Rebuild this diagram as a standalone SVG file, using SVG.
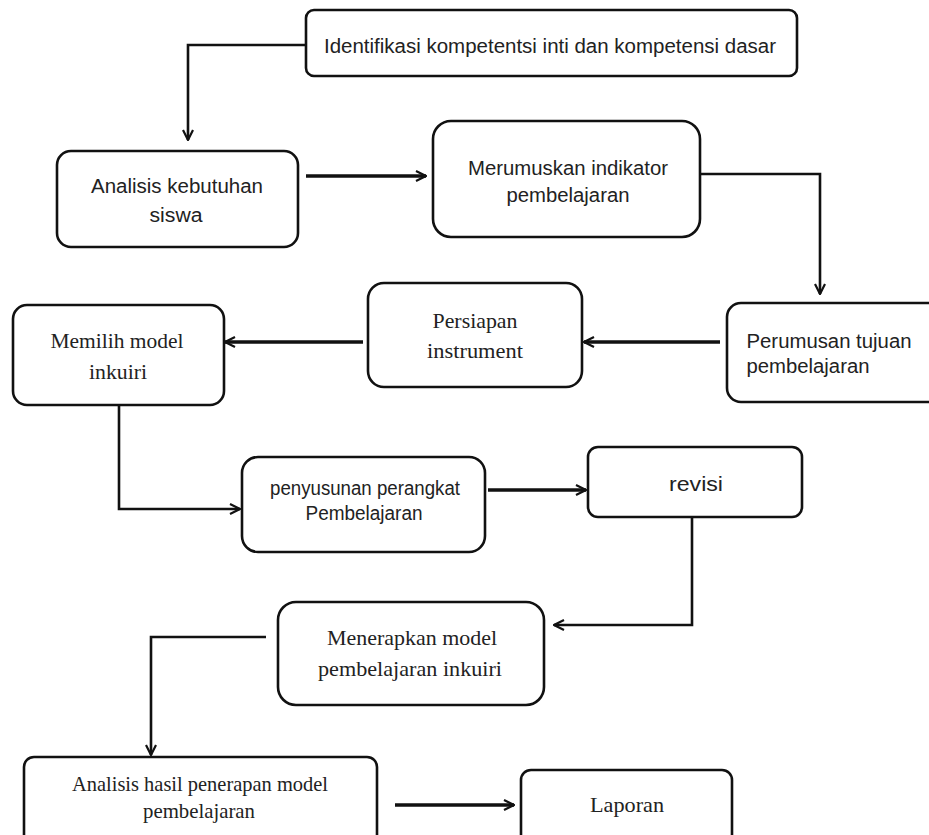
<svg xmlns="http://www.w3.org/2000/svg" width="929" height="835" viewBox="0 0 929 835">
<style>
.box{fill:#fff;stroke:#111;stroke-width:2.6}
.s{font-family:"Liberation Sans",Arial,sans-serif;font-size:20px;fill:#222;text-anchor:middle}
.r{font-family:"Liberation Serif","Times New Roman",serif;font-size:21px;fill:#222;text-anchor:middle}
.ln{fill:none;stroke:#111;stroke-width:2.6}
.th{stroke-width:3.5}
</style>
<defs>
<marker id="ah" viewBox="0 0 12 12" refX="11" refY="6" markerWidth="12" markerHeight="12" markerUnits="userSpaceOnUse" orient="auto">
<path d="M1,1 L11,6 L1,11" fill="none" stroke="#111" stroke-width="2.2"/>
</marker>
</defs>
<rect width="929" height="835" fill="#fff"/>
<g id="connectors">
<path class="ln" d="M306,45 H188 V140" marker-end="url(#ah)"/>
<path class="ln th" d="M306,176 H426" marker-end="url(#ah)"/>
<path class="ln" d="M700,174 H820 V294" marker-end="url(#ah)"/>
<path class="ln th" d="M720,342 H584" marker-end="url(#ah)"/>
<path class="ln th" d="M363,342 H225" marker-end="url(#ah)"/>
<path class="ln" d="M119,405 V509 H240" marker-end="url(#ah)"/>
<path class="ln th" d="M488,490 H586" marker-end="url(#ah)"/>
<path class="ln" d="M692,517 V625 H554" marker-end="url(#ah)"/>
<path class="ln" d="M266,637 H151 V755" marker-end="url(#ah)"/>
<path class="ln th" d="M395,805 H514" marker-end="url(#ah)"/>
</g>
<g id="n1"><rect class="box" x="306" y="10" width="491" height="66" rx="8"/>
<text class="s" x="550" y="53" textLength="452" lengthAdjust="spacingAndGlyphs">Identifikasi kompetentsi inti dan kompetensi dasar</text></g>
<g id="n2"><rect class="box" x="57" y="151" width="241" height="96" rx="14"/>
<text class="s" x="177" y="193" textLength="172" lengthAdjust="spacingAndGlyphs">Analisis kebutuhan</text>
<text class="s" x="176" y="222" textLength="53" lengthAdjust="spacingAndGlyphs">siswa</text></g>
<g id="n3"><rect class="box" x="433" y="121" width="267" height="116" rx="18"/>
<text class="s" x="568" y="175" textLength="200" lengthAdjust="spacingAndGlyphs">Merumuskan indikator</text>
<text class="s" x="568" y="202" textLength="123" lengthAdjust="spacingAndGlyphs">pembelajaran</text></g>
<g id="n4"><rect class="box" x="727" y="303" width="215" height="99" rx="14"/>
<text class="s" x="829" y="348" textLength="165" lengthAdjust="spacingAndGlyphs">Perumusan tujuan</text>
<text class="s" x="808" y="373" textLength="123" lengthAdjust="spacingAndGlyphs">pembelajaran</text></g>
<g id="n5"><rect class="box" x="368" y="283" width="214" height="104" rx="16"/>
<text class="r" x="475" y="328" textLength="85" lengthAdjust="spacingAndGlyphs">Persiapan</text>
<text class="r" x="475" y="358" textLength="96" lengthAdjust="spacingAndGlyphs">instrument</text></g>
<g id="n6"><rect class="box" x="13" y="305" width="211" height="100" rx="14"/>
<text class="r" x="117" y="348" textLength="133" lengthAdjust="spacingAndGlyphs">Memilih model</text>
<text class="r" x="118" y="379" textLength="58" lengthAdjust="spacingAndGlyphs">inkuiri</text></g>
<g id="n7"><rect class="box" x="242" y="457" width="243" height="95" rx="16"/>
<text class="s" x="365" y="495" textLength="190" lengthAdjust="spacingAndGlyphs">penyusunan perangkat</text>
<text class="s" x="364" y="520" textLength="117" lengthAdjust="spacingAndGlyphs">Pembelajaran</text></g>
<g id="n8"><rect class="box" x="588" y="447" width="214" height="70" rx="10"/>
<text class="s" x="696" y="491" font-size="25" textLength="54" lengthAdjust="spacingAndGlyphs">revisi</text></g>
<g id="n9"><rect class="box" x="278" y="602" width="266" height="103" rx="18"/>
<text class="r" x="412" y="645" textLength="170" lengthAdjust="spacingAndGlyphs">Menerapkan model</text>
<text class="r" x="410" y="676" textLength="184" lengthAdjust="spacingAndGlyphs">pembelajaran inkuiri</text></g>
<g id="n10"><rect class="box" x="24" y="757" width="353" height="90" rx="10"/>
<text class="r" x="200" y="791" textLength="256" lengthAdjust="spacingAndGlyphs">Analisis hasil penerapan model</text>
<text class="r" x="199" y="818" textLength="112" lengthAdjust="spacingAndGlyphs">pembelajaran</text></g>
<g id="n11"><rect class="box" x="521" y="770" width="211" height="80" rx="10"/>
<text class="r" x="627" y="812" textLength="74" lengthAdjust="spacingAndGlyphs">Laporan</text></g>
</svg>
